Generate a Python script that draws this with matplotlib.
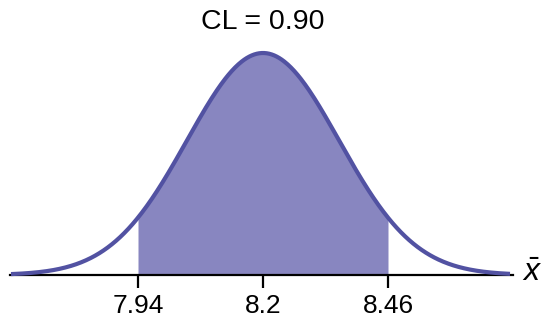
import numpy as np
import matplotlib
matplotlib.use("Agg")
import matplotlib.pyplot as plt

plt.rcParams["font.family"] = ["Liberation Sans", "DejaVu Sans"]
plt.rcParams["mathtext.fontset"] = "custom"
plt.rcParams["mathtext.it"] = "Liberation Sans:italic"
plt.rcParams["mathtext.rm"] = "Liberation Sans"

# ── 数据 ──────────────────────────────────────────
mean = 8.2
lower, upper = 7.94, 8.46
cl = 0.90
z = 1.645
tick_vals = [7.94, 8.2, 8.46]
tick_labels = ["7.94", "8.2", "8.46"]

sigma = (upper - mean) / z
px = 0.26 / 125          # 每像素对应的 x 单位

fig = plt.figure(figsize=(5.43, 3.23), dpi=100)
ax = fig.add_axes([0, 0, 1, 1])
ax.set_xlim(mean - 263 * px, mean + 280 * px)
ax.set_ylim(-48 / 222, 275 / 222)

x = np.linspace(mean - 252 * px, mean + 247 * px, 600)
y = np.exp(-0.5 * ((x - mean) / sigma) ** 2)

xs = np.linspace(lower, upper, 300)
ys = np.exp(-0.5 * ((xs - mean) / sigma) ** 2)
ax.fill_between(xs, 0, ys, color="#8886c0", lw=0, zorder=1)
ax.plot(x, y, color="#5252a2", lw=3, solid_capstyle="butt", zorder=3)

# 横轴
ax.spines[["left", "right", "top"]].set_visible(False)
ax.spines["bottom"].set_position(("data", 0))
ax.spines["bottom"].set_bounds(mean - 253 * px, mean + 250 * px)
ax.spines["bottom"].set_linewidth(1.6)
ax.spines["bottom"].set_zorder(2)
ax.set_xticks(tick_vals)
ax.set_xticklabels(tick_labels, fontsize=19)
ax.tick_params(axis="x", direction="out", length=9, width=1.6, pad=5)
ax.set_yticks([])

ax.text(mean + 269 * px, 0.01, r"$\bar{x}$", fontsize=23, ha="center", va="center")
ax.text(mean, 1.14, f"CL = {cl:.2f}", fontsize=20.5, ha="center", va="center")

fig.savefig("out.png", dpi=100)
